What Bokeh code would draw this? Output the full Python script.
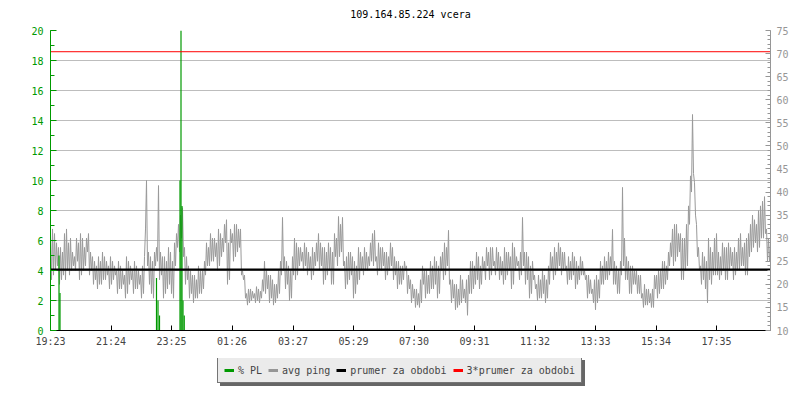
from bokeh.plotting import figure
from bokeh.layouts import column
from bokeh.models import Range1d, LinearAxis, FixedTicker, Legend, LegendItem, Label
from bokeh.embed import file_html
from bokeh.resources import INLINE

# ---------------- data ----------------
title_text = "109.164.85.224 vcera"

# x axis: minutes since start of period (19:23 previous day)
period_minutes = [0, 1440]
tick_minutes = [0, 121, 242, 363, 485, 606, 727, 848, 969, 1090, 1211, 1332]
tick_labels = ["19:23", "21:24", "23:25", "01:26", "03:27", "05:29",
               "07:30", "09:31", "11:32", "13:33", "15:34", "17:35"]

# avg ping [ms], one sample every 2 minutes
ping_step = 2
ping_ms = [
    30, 21, 32, 22, 31, 23, 29, 24, 28, 20, 28, 21, 27, 22, 31, 21, 32, 23, 29, 22,
    30, 23, 27, 24, 26, 23, 30, 25, 29, 21, 31, 22, 30, 23, 28, 24, 30, 27, 31, 22,
    27, 23, 26, 20, 25, 21, 24, 19, 26, 20, 25, 20, 27, 21, 26, 21, 25, 22, 24, 19,
    26, 20, 25, 21, 24, 22, 23, 18, 25, 19, 24, 19, 23, 20, 22, 17, 26, 18, 25, 20,
    24, 21, 23, 18, 25, 19, 24, 19, 23, 20, 22, 17, 24, 18, 26, 32, 42.5, 24, 27, 20,
    26, 18, 25, 17, 27, 24, 28, 25, 41.4, 21, 27, 22, 26, 17, 26, 18, 25, 19, 28, 20,
    27, 18, 25, 17, 29, 24, 31, 28, 33, 27, 35, 30, 36.6, 26, 28, 20, 26, 21, 24, 17,
    23, 18, 22, 16, 22, 17, 21, 17, 24, 18, 23, 18, 23, 19, 25, 22, 29, 24, 28, 24,
    31, 25, 30, 25, 30, 26, 29, 23, 32, 24, 31, 26, 30, 27, 33, 29, 34, 20, 29, 21,
    32, 29, 31, 25, 33, 26, 33, 27, 32, 28, 32, 22, 23, 21, 22, 17, 18, 15.5, 19, 16,
    19, 16.5, 18.5, 17, 18, 16, 19.5, 16.5, 19, 16, 18.5, 17, 21, 18.5, 25, 18, 23, 19, 22, 16,
    22, 17, 21, 15.5, 20, 16, 20, 17, 23, 18, 25, 22, 34.5, 23, 26, 19, 25, 20, 24, 16.5,
    23, 17, 26, 22, 30, 21, 29, 22, 28, 24, 28, 25, 27, 23, 29, 24, 28, 22, 27, 23,
    26, 21, 28, 22, 27, 24, 29, 25, 31, 23, 29, 24, 28, 20, 28, 21, 27, 22, 29, 23,
    28, 20, 27, 20, 31, 26, 30, 24, 34.7, 26, 33, 27, 34.5, 24, 25, 19, 26, 20, 27, 21,
    27, 22, 26, 17, 25, 18, 24, 20, 28, 21, 27, 23, 26, 22, 28, 23, 27, 23, 26, 24,
    29, 25, 31, 24, 31.7, 25, 26, 22, 29, 23, 28, 23, 28, 24, 27, 21, 27, 22, 26, 23,
    29, 24, 28, 21, 26, 22, 25, 19, 25, 20, 24, 20, 24, 21, 25, 23, 24, 18, 22, 19,
    21, 16, 20, 17, 19, 15, 19, 15.5, 18, 15, 21, 16, 24, 20, 23, 17, 23, 18, 22, 18,
    25, 19, 24, 19, 26, 20, 25, 17, 24, 18, 26, 23, 27, 21, 29, 22, 28, 24, 31.7, 20,
    21, 16, 21, 17, 20, 14.5, 20, 15, 19, 15.5, 22, 16, 21, 17, 19, 16, 21, 13.3, 22, 18,
    25, 18, 25, 19, 24, 20, 27, 21, 26, 19, 24, 20, 26, 23, 25, 21, 28, 24, 27, 21,
    28, 22, 28, 24, 25, 22, 28, 23, 27, 21, 26, 22, 25, 20, 28, 21, 27, 22, 27, 23,
    26, 19, 29, 20, 28, 23, 26, 24, 25, 21, 27, 22, 34.5, 24, 27, 20, 27, 21, 26, 17,
    24, 18, 25, 21, 22, 19, 20, 16.5, 22, 17, 21, 17, 23, 18, 22, 16, 21, 17, 24, 20,
    27, 23, 26, 21, 28, 22, 27, 23, 29, 24, 28, 22, 27, 23, 27, 23, 24, 20, 26, 21,
    25, 21, 27, 22, 26, 19, 25, 20, 24, 21, 26, 22, 25, 22, 23, 21, 22, 17, 22, 18,
    21, 18, 19, 16, 21, 14.5, 22, 16, 21, 17, 25, 20, 24, 20, 26, 21, 25, 21, 27, 22,
    26, 23, 31.9, 20, 25, 20, 24, 18, 23, 18, 25, 22, 41, 24, 30, 21, 26, 21, 25, 18,
    24, 18, 24, 20, 23, 20, 23, 18, 22, 18, 22, 17, 18, 15, 20, 15.5, 19, 15.5, 19, 16,
    18, 15, 19, 15, 22, 19, 22, 17, 23, 18, 23, 19, 25, 19, 25, 20, 24, 21, 27, 24,
    29, 26, 32, 24, 33, 25, 33, 26, 31, 27, 31, 21, 30, 21, 30, 23, 33, 24, 37, 33,
    43.5, 40, 56.8, 44, 42, 35, 33, 26, 28, 23, 24, 20, 27, 21, 26, 19, 25, 16, 30, 21,
    28, 20, 27, 22, 30, 22, 31, 22, 27, 21, 26, 22, 29, 23, 28, 21, 28, 21, 29, 23,
    28, 24, 27, 21, 28, 22, 27, 23, 30, 23, 31, 24, 28, 24, 29, 22, 30, 22, 31, 26,
    33, 27, 35, 28, 34, 29, 33, 27, 36, 28, 37, 30, 38, 30, 39, 31, 32, 25, 30, 25,
    29,
]
ping_t = [i * ping_step for i in range(len(ping_ms))]

# packet loss [%] (non-zero samples only)
pl_t = [17, 19, 212, 215, 218, 259, 261, 263, 265, 267.5]
pl_pct = [5.0, 2.5, 3.5, 2.0, 1.0, 10.0, 20.0, 8.3, 2.0, 1.0]
pl_bar_minutes = 2.4

avg_ping = 23.2
avg_ping_x3 = 70.4

series_labels = ["% PL", "avg ping", "prumer za obdobi", "3*prumer za obdobi"]

# ---------------- styles ----------------
GREEN = "#009900"
GREY = "#969696"
PING_GREY = "#999999"
RED = "#ff0000"
GRID = "#bdbdbd"
MONO = "DejaVu Sans Mono"
FS = "10px"


def strip(height):
    f = figure(width=800, height=height, output_backend="svg", toolbar_location=None,
               x_axis_type=None, y_axis_type=None,
               x_range=Range1d(period_minutes[0], period_minutes[1]),
               y_range=Range1d(0, height),
               min_border=0, min_border_left=0, min_border_right=0,
               min_border_top=0, min_border_bottom=0)
    f.outline_line_color = None
    f.background_fill_color = "white"
    f.border_fill_color = "white"
    f.xgrid.visible = False
    f.ygrid.visible = False
    return f


# ---------------- title strip ----------------
head = strip(22)
head.add_layout(Label(x=(period_minutes[0] + period_minutes[1]) / 2, y=8, text=title_text,
                      text_align="center", text_baseline="middle",
                      text_font=MONO, text_font_size=FS, text_color="black"))

# ---------------- main plot ----------------
p = figure(width=800, height=336, output_backend="svg", toolbar_location=None,
           x_range=Range1d(period_minutes[0], period_minutes[1]),
           y_range=Range1d(0, 20),
           min_border_left=50, min_border_right=30,
           min_border_top=8, min_border_bottom=28)
p.outline_line_color = None
p.background_fill_color = "white"
p.border_fill_color = "white"

p.extra_y_ranges = {"ping": Range1d(10, 75)}

# left axis (PL %)
left_ticker = FixedTicker(ticks=list(range(0, 21, 2)), minor_ticks=list(range(0, 21)))
la = p.left[0]
la.ticker = left_ticker
la.axis_line_color = GREEN
la.major_tick_line_color = GREEN
la.minor_tick_line_color = GREEN
la.major_label_text_color = GREEN
la.major_tick_in = 6
la.major_tick_out = 0
la.minor_tick_in = 4
la.minor_tick_out = 0
la.major_label_text_font = MONO
la.major_label_text_font_size = FS
la.major_label_standoff = 7

# bottom axis
ba = p.below[0]
ba.ticker = FixedTicker(ticks=tick_minutes, minor_ticks=[])
ba.major_label_overrides = {m: lab for m, lab in zip(tick_minutes, tick_labels)}
ba.axis_line_color = "black"
ba.major_tick_line_color = "black"
ba.major_tick_in = 5
ba.major_tick_out = 0
ba.minor_tick_line_color = None
ba.major_label_text_font = MONO
ba.major_label_text_font_size = FS
ba.major_label_standoff = 5

# right axis (ping ms)
ra = LinearAxis(y_range_name="ping",
                ticker=FixedTicker(ticks=list(range(10, 76, 5)), minor_ticks=list(range(10, 76))))
ra.axis_line_color = GREY
ra.major_tick_line_color = GREY
ra.minor_tick_line_color = GREY
ra.major_label_text_color = GREY
ra.major_tick_in = 5
ra.major_tick_out = 0
ra.minor_tick_in = 3
ra.minor_tick_out = 0
ra.major_label_text_font = MONO
ra.major_label_text_font_size = FS
ra.major_label_standoff = 6
p.add_layout(ra, "right")

p.ygrid.ticker = left_ticker
p.ygrid.grid_line_color = GRID
p.xgrid.visible = False

# ---------------- marks ----------------
p.line(x=ping_t, y=ping_ms, y_range_name="ping", line_color=PING_GREY, line_width=1)
p.vbar(x=pl_t, top=pl_pct, bottom=0, width=pl_bar_minutes,
       fill_color=GREEN, line_color=None)
p.line(x=period_minutes, y=[avg_ping, avg_ping], y_range_name="ping",
       line_color="black", line_width=2.2)
p.line(x=period_minutes, y=[avg_ping_x3, avg_ping_x3], y_range_name="ping",
       line_color=RED, line_width=1)

# ---------------- legend strip ----------------
leg = strip(42)
swatch_colors = [GREEN, GREY, "black", RED]
# swatch renderers (kept outside the visible range; only their legend glyphs show)
dummies = [leg.line(x=period_minutes, y=[-50, -50], line_color=c, line_width=3)
           for c in swatch_colors]


def make_legend(labels, loc, bg, border):
    return Legend(
        items=[LegendItem(label=l, renderers=[d]) for l, d in zip(labels, dummies)],
        location=loc, orientation="horizontal",
        border_line_color=border, border_line_width=1,
        background_fill_color=bg, background_fill_alpha=1.0,
        label_text_font=MONO, label_text_font_size=FS,
        glyph_width=10, glyph_height=12, label_height=12,
        label_standoff=4, spacing=6, padding=6, margin=0,
    )


shadow_labels = ["\u00a0" * len(s) for s in series_labels]
leg.add_layout(make_legend(shadow_labels, (170, 14), "#666666", "#666666"), "center")
leg.add_layout(make_legend(series_labels, (167, 17), "#ebebeb", "black"), "center")

page = column(head, p, leg, spacing=0)
open("out.html", "w").write(file_html(page, INLINE))
